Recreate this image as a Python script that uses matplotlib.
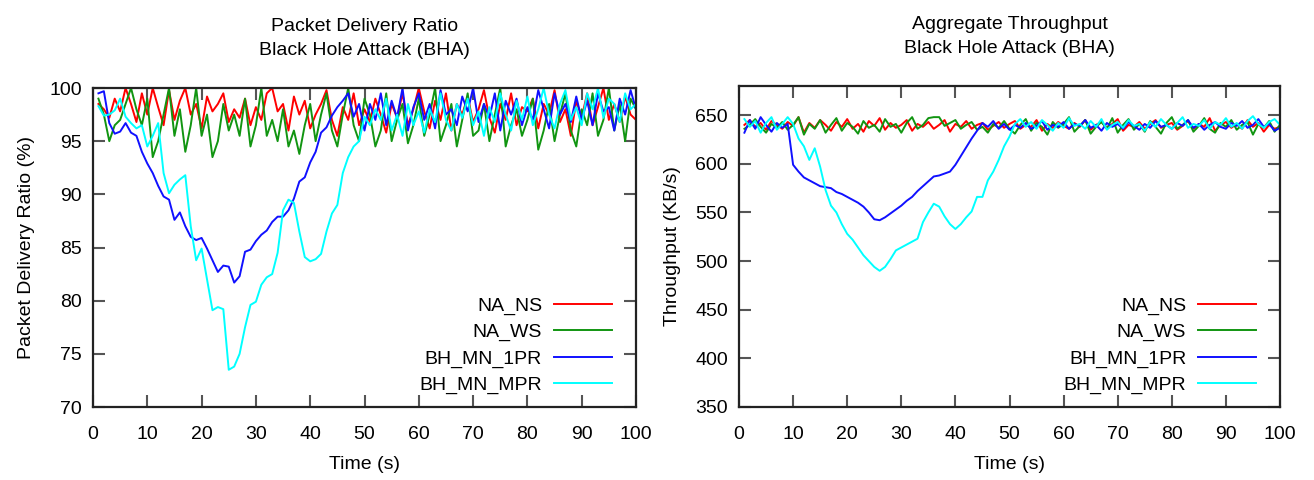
import numpy as np
from matplotlib import pyplot as plt

plt.rcParams['font.family'] = ['Liberation Sans', 'DejaVu Sans']

time = np.arange(1, 101)
series_names = ['NA_NS', 'NA_WS', 'BH_MN_1PR', 'BH_MN_MPR']
series_colors = ['#ff0000', '#119511', '#1010ff', '#00ffff']

# Packet delivery ratio (%)
pdr_na_ns = [
    98.5, 98.0, 97.2, 99.0, 97.8, 100.0, 98.5, 96.8, 99.5, 97.5,
    100.0, 98.2, 96.5, 99.8, 97.0, 98.8, 100.0, 97.5, 98.5, 96.2,
    99.2, 97.8, 98.5, 99.5, 96.8, 98.0, 97.2, 99.0, 96.5, 98.2,
    97.0, 99.5, 100.0, 97.8, 98.5, 96.0, 99.2, 97.5, 98.8, 96.2,
    97.5, 98.5, 99.8, 97.0, 95.5, 98.2, 97.0, 99.5, 96.5, 98.0,
    96.8, 99.0, 97.5, 95.8, 98.5, 97.2, 99.5, 96.5, 98.0, 100.0,
    97.8, 96.2, 98.8, 97.0, 99.5, 96.0, 98.5, 97.5, 99.2, 96.8,
    98.0, 99.8, 97.2, 95.8, 98.5, 97.0, 99.5, 96.5, 98.2, 97.8,
    99.0, 96.2, 98.5, 97.5, 99.8, 96.8, 98.0, 95.5, 98.8, 97.2,
    99.5, 96.5, 98.2, 100.0, 97.0, 98.5, 96.8, 99.2, 97.5, 97.0,
]
pdr_na_ws = [
    99.0, 97.5, 95.0, 96.5, 97.0, 98.5, 100.0, 98.0, 96.5, 99.0,
    93.5, 95.0, 97.5, 100.0, 95.5, 98.0, 94.0, 96.5, 100.0, 95.5,
    97.5, 93.5, 95.0, 98.5, 96.0, 97.5, 95.5, 99.0, 94.5, 96.5,
    100.0, 95.5, 97.0, 95.0, 98.0, 94.5, 96.0, 93.8, 96.5, 98.5,
    95.0, 97.5, 99.5, 96.0, 94.5, 97.5, 100.0, 96.5, 95.0, 99.0,
    97.5, 94.5, 96.0, 99.5, 95.0, 97.0, 98.5, 94.8, 96.5, 99.0,
    95.5, 97.5, 100.0, 95.0, 96.5, 98.5, 94.5, 97.0, 99.5, 95.5,
    96.0, 98.5, 95.0, 97.5, 100.0, 94.5, 96.5, 98.0, 95.5, 97.0,
    99.0, 94.2, 96.0, 98.5, 95.0, 97.5, 99.5, 96.0, 94.5, 98.0,
    96.5, 99.5, 95.5, 97.0, 100.0, 96.0, 98.5, 95.0, 99.0, 98.0,
]
pdr_bh_1pr = [
    99.5, 99.7, 96.7, 95.7, 95.9, 96.7, 95.8, 95.5, 94.0, 92.9,
    92.0, 90.8, 89.8, 89.5, 87.6, 88.3, 87.0, 86.0, 85.7, 85.9,
    84.9, 83.8, 82.7, 83.3, 83.2, 81.7, 82.3, 84.6, 84.8, 85.6,
    86.2, 86.6, 87.4, 87.9, 87.9, 88.5, 89.6, 91.2, 91.6, 93.0,
    94.0, 95.8, 96.3, 97.4, 98.2, 98.8, 99.5, 97.3, 98.5, 96.0,
    98.5, 97.0, 99.5, 96.5, 98.8, 97.2, 100.0, 96.0, 98.2, 99.5,
    97.0, 98.5, 96.2, 99.8, 97.5, 98.0, 96.5, 99.2, 97.8, 100.0,
    96.8, 98.5, 97.2, 99.5, 96.0, 98.8, 97.5, 99.0, 96.5, 98.2,
    97.0, 99.8, 98.0, 96.2, 99.5, 97.5, 98.5, 96.8, 99.2, 97.0,
    98.8, 96.5, 99.5, 97.8, 98.2, 96.0, 99.0, 97.5, 99.8, 98.0,
]
pdr_bh_mpr = [
    98.3, 97.4, 97.5, 97.9, 99.0, 97.3, 96.7, 96.2, 96.5, 94.5,
    95.5, 96.7, 92.0, 90.1, 90.9, 91.4, 91.8, 87.0, 83.8, 84.9,
    82.0, 79.1, 79.4, 79.2, 73.5, 73.8, 75.0, 77.5, 79.6, 79.9,
    81.5, 82.2, 82.5, 84.5, 88.5, 89.5, 89.2, 86.5, 84.1, 83.7,
    83.9, 84.4, 86.5, 88.2, 89.0, 92.0, 93.5, 94.5, 95.0, 97.3,
    96.5, 98.0, 97.0, 99.0, 96.0, 97.5, 95.5, 98.5, 96.5, 97.8,
    95.8, 98.0, 96.8, 99.5, 97.0, 96.0, 98.5, 97.2, 99.0, 96.5,
    97.8, 95.5, 98.2, 96.8, 99.5, 97.5, 96.0, 98.8, 97.0, 99.2,
    96.5, 98.0, 100.0, 97.5, 96.2, 98.5, 99.8, 97.0, 98.2, 96.5,
    99.5, 98.0, 100.0, 97.2, 99.0, 98.5, 96.8, 99.5, 98.0, 98.5,
]

# Aggregate throughput (KB/s)
thr_na_ns = [
    640, 645, 638, 642, 635, 644, 640, 636, 643, 639,
    648, 632, 642, 637, 645, 640, 634, 643, 638, 646,
    636, 641, 633, 644, 639, 647, 635, 642, 637, 640,
    645, 634, 641, 638, 643, 636, 640, 645, 633, 641,
    638, 644, 636, 640, 642, 635, 639, 643, 637, 641,
    644, 636, 640, 638, 645, 634, 641, 637, 643, 639,
    636, 642, 638, 645, 635, 640, 643, 637, 641, 646,
    634, 640, 638, 643, 636, 641, 645, 637, 640, 642,
    635, 639, 644, 636, 641, 638, 647, 634, 640, 643,
    637, 641, 636, 645, 638, 642, 633, 640, 636, 638,
]
thr_na_ws = [
    636, 640, 646, 638, 632, 641, 637, 643, 635, 640,
    648, 630, 641, 636, 645, 632, 640, 647, 634, 642,
    638, 631, 644, 637, 640, 633, 646, 638, 641, 632,
    642, 648, 636, 640, 647, 648, 648, 639, 642, 645,
    636, 640, 643, 635, 638, 632, 641, 637, 644, 636,
    631, 640, 646, 634, 642, 638, 630, 643, 637, 641,
    648, 633, 639, 645, 631, 638, 643, 636, 647, 632,
    640, 646, 635, 641, 633, 644, 638, 631, 642, 648,
    636, 640, 645, 633, 639, 647, 636, 632, 642, 638,
    645, 635, 640, 643, 630, 641, 637, 644, 633, 640,
]
thr_bh_1pr = [
    632, 645, 636, 648, 640, 633, 642, 637, 641, 599,
    592, 586, 583, 580, 577, 576, 575, 571, 569, 566,
    563, 560, 556, 550, 543, 542, 545, 549, 553, 557,
    562, 566, 572, 577, 582, 587, 588, 590, 592, 599,
    608, 617, 626, 634, 642, 638, 644, 636, 641, 635,
    640, 637, 642, 636, 639, 644, 635, 640, 638, 643,
    636, 641, 639, 645, 637, 640, 634, 642, 638, 641,
    636, 643, 639, 635, 641, 637, 644, 638, 640, 636,
    642, 639, 645, 637, 641, 635, 640, 643, 638, 636,
    642, 639, 644, 637, 640, 646, 638, 641, 634, 637,
]
thr_bh_mpr = [
    646, 638, 644, 632, 642, 648, 635, 641, 648, 641,
    626, 618, 604, 616, 597, 573, 557, 550, 538, 528,
    522, 514, 506, 500, 494, 490, 494, 502, 511, 514,
    517, 520, 523, 540, 550, 559, 556, 546, 538, 533,
    538, 545, 551, 566, 566, 583, 592, 604, 618, 628,
    641, 646, 638, 643, 636, 645, 640, 634, 642, 637,
    647, 639, 641, 636, 644, 638, 646, 635, 640, 643,
    637, 645, 639, 641, 634, 643, 638, 646, 640, 636,
    642, 648, 637, 641, 639, 645, 636, 643, 640, 647,
    638, 642, 636, 644, 649, 641, 637, 643, 646, 640,
]


def draw_panel(ax, data, title, ylabel, ylim, yticks):
    for values, name, color in zip(data, series_names, series_colors):
        ax.plot(time, values, color=color, lw=1.4, label=name)

    ax.set_xlim(0, 100)
    ax.set_ylim(*ylim)
    ax.set_xticks(range(0, 101, 10))
    ax.set_yticks(yticks)
    ax.set_title(title, fontsize=14, pad=24, linespacing=1.5)
    ax.set_xlabel('Time (s)', fontsize=14, labelpad=9)
    ax.set_ylabel(ylabel, fontsize=14, labelpad=10)
    ax.tick_params(direction='in', length=8.5, width=1.5, color='#555555',
                   top=True, right=True, labelsize=14)
    ax.tick_params(axis='x', pad=14)
    ax.tick_params(axis='y', pad=8)
    for spine in ax.spines.values():
        spine.set_linewidth(1.6)
        spine.set_color('#222222')

    leg = ax.legend(loc='lower right', bbox_to_anchor=(0.956, 0.04),
                    frameon=False, fontsize=14, markerfirst=False,
                    handlelength=3.0, handletextpad=0.6, labelspacing=0.45,
                    borderpad=0, borderaxespad=0)
    # gnuplot style: labels right-aligned against the line samples
    leg._legend_handle_box.get_children()[0].align = 'right'


fig = plt.figure(figsize=(13.14, 4.8), dpi=100)
ax1 = fig.add_axes([93 / 1314, 1 - 407 / 480, 543 / 1314, 319 / 480])
ax2 = fig.add_axes([739 / 1314, 1 - 407 / 480, 541 / 1314, 321 / 480])

draw_panel(ax1, [pdr_na_ns, pdr_na_ws, pdr_bh_1pr, pdr_bh_mpr],
           'Packet Delivery Ratio\nBlack Hole Attack (BHA)',
           'Packet Delivery Ratio (%)', (70, 100), range(70, 101, 5))
draw_panel(ax2, [thr_na_ns, thr_na_ws, thr_bh_1pr, thr_bh_mpr],
           'Aggregate Throughput\nBlack Hole Attack (BHA)',
           'Throughput (KB/s)', (350, 680), range(350, 651, 50))

fig.savefig('out.png', dpi=100)
